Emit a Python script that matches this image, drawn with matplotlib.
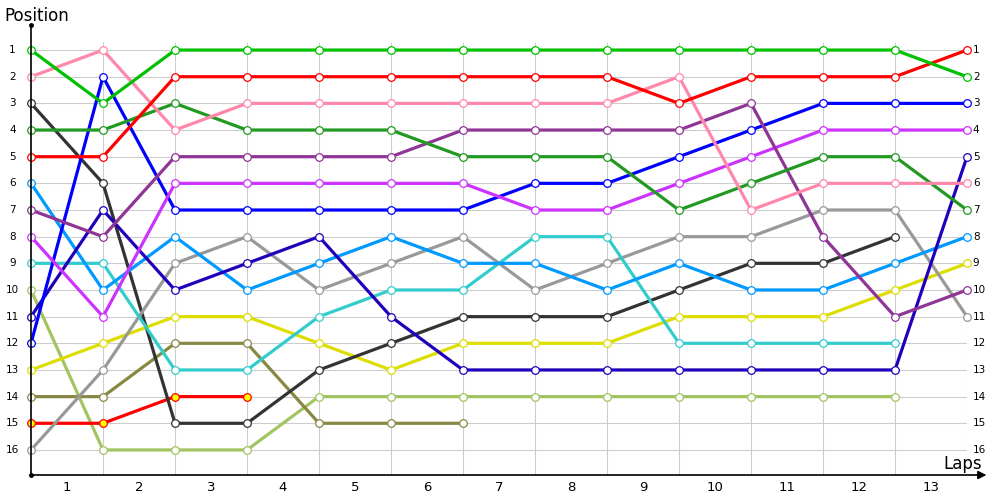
import matplotlib
matplotlib.use("Agg")
import matplotlib.pyplot as plt

laps = list(range(1, 14))
positions = list(range(1, 17))

# positions per driver at lap boundaries 0..13 (shorter lists = retired)
green = [1, 3, 1, 1, 1, 1, 1, 1, 1, 1, 1, 1, 1, 2]
red = [5, 5, 2, 2, 2, 2, 2, 2, 2, 3, 2, 2, 2, 1]
pink = [2, 1, 4, 3, 3, 3, 3, 3, 3, 2, 7, 6, 6, 6]
dark_green = [4, 4, 3, 4, 4, 4, 5, 5, 5, 7, 6, 5, 5, 7]
purple = [7, 8, 5, 5, 5, 5, 4, 4, 4, 4, 3, 8, 11, 10]
violet = [8, 11, 6, 6, 6, 6, 6, 7, 7, 6, 5, 4, 4, 4]
blue = [12, 2, 7, 7, 7, 7, 7, 6, 6, 5, 4, 3, 3, 3]
navy = [11, 7, 10, 9, 8, 11, 13, 13, 13, 13, 13, 13, 13, 5]
sky = [6, 10, 8, 10, 9, 8, 9, 9, 10, 9, 10, 10, 9, 8]
cyan = [9, 9, 13, 13, 11, 10, 10, 8, 8, 12, 12, 12, 12]
grey = [16, 13, 9, 8, 10, 9, 8, 10, 9, 8, 8, 7, 7, 11]
black = [3, 6, 15, 15, 13, 12, 11, 11, 11, 10, 9, 9, 8]
yellow = [13, 12, 11, 11, 12, 13, 12, 12, 12, 11, 11, 11, 10, 9]
olive = [14, 14, 12, 12, 15, 15, 15]
red_yellow = [15, 15, 14, 14]
lime = [10, 16, 16, 16, 14, 14, 14, 14, 14, 14, 14, 14, 14]

series = [
    (lime, "#a3c462", "white"),
    (red_yellow, "#ff0000", "#ffff00"),
    (olive, "#888844", "white"),
    (yellow, "#dddd00", "white"),
    (black, "#333333", "white"),
    (grey, "#999999", "white"),
    (cyan, "#33cccc", "white"),
    (sky, "#0099ff", "white"),
    (navy, "#2200bb", "white"),
    (blue, "#0000ff", "white"),
    (violet, "#cc33ff", "white"),
    (purple, "#8e3596", "white"),
    (dark_green, "#229922", "white"),
    (pink, "#ff88aa", "white"),
    (red, "#ff0000", "white"),
    (green, "#00c000", "white"),
]

fig = plt.figure(figsize=(10, 5), dpi=100)
ax = fig.add_axes([0.031, 0.05, 0.936, 0.9])
n = len(laps)
ax.set_xlim(0, n)
ax.set_ylim(16.94, 0.06)
ax.axis("off")

# grid
ax.vlines(range(1, n + 1), 16.94, 0.7, color="#cccccc", lw=0.8, zorder=0)
ax.hlines(positions, 0, n, color="#cccccc", lw=0.8, zorder=0)

for vals, col, face in series:
    ax.plot(range(len(vals)), vals, color=col, lw=2.3, marker="o", ms=5.5,
            mfc=face, mec=col, mew=0.9, zorder=3, clip_on=False)

# axes lines
ax.plot([0, 0], [16.94, 0.06], color="black", lw=1.2, zorder=4, clip_on=False)
ax.plot([0], [0.06], "o", color="black", ms=2.5, zorder=4, clip_on=False)
ax.plot([0], [16.94], "o", color="black", ms=2.5, zorder=4, clip_on=False)
ax.annotate("", xy=(n + 0.27, 16.94), xytext=(0, 16.94),
            arrowprops=dict(arrowstyle="-|>", color="black", lw=1.2,
                            mutation_scale=12, shrinkA=0, shrinkB=0),
            annotation_clip=False, zorder=4)

for p in positions:
    ax.text(-0.26, p, str(p), ha="center", va="center", fontsize=7.5)
    ax.text(n + 0.08, p, str(p), ha="left", va="center", fontsize=7.5)
for i, lap in enumerate(laps):
    ax.text(i + 0.5, 17.4, str(lap), ha="center", va="center", fontsize=9.5)

fig.text(0.004, 0.968, "Position", fontsize=12, ha="left", va="center")
fig.text(0.943, 0.072, "Laps", fontsize=12, ha="left", va="center")

fig.savefig("out.png", dpi=100)
